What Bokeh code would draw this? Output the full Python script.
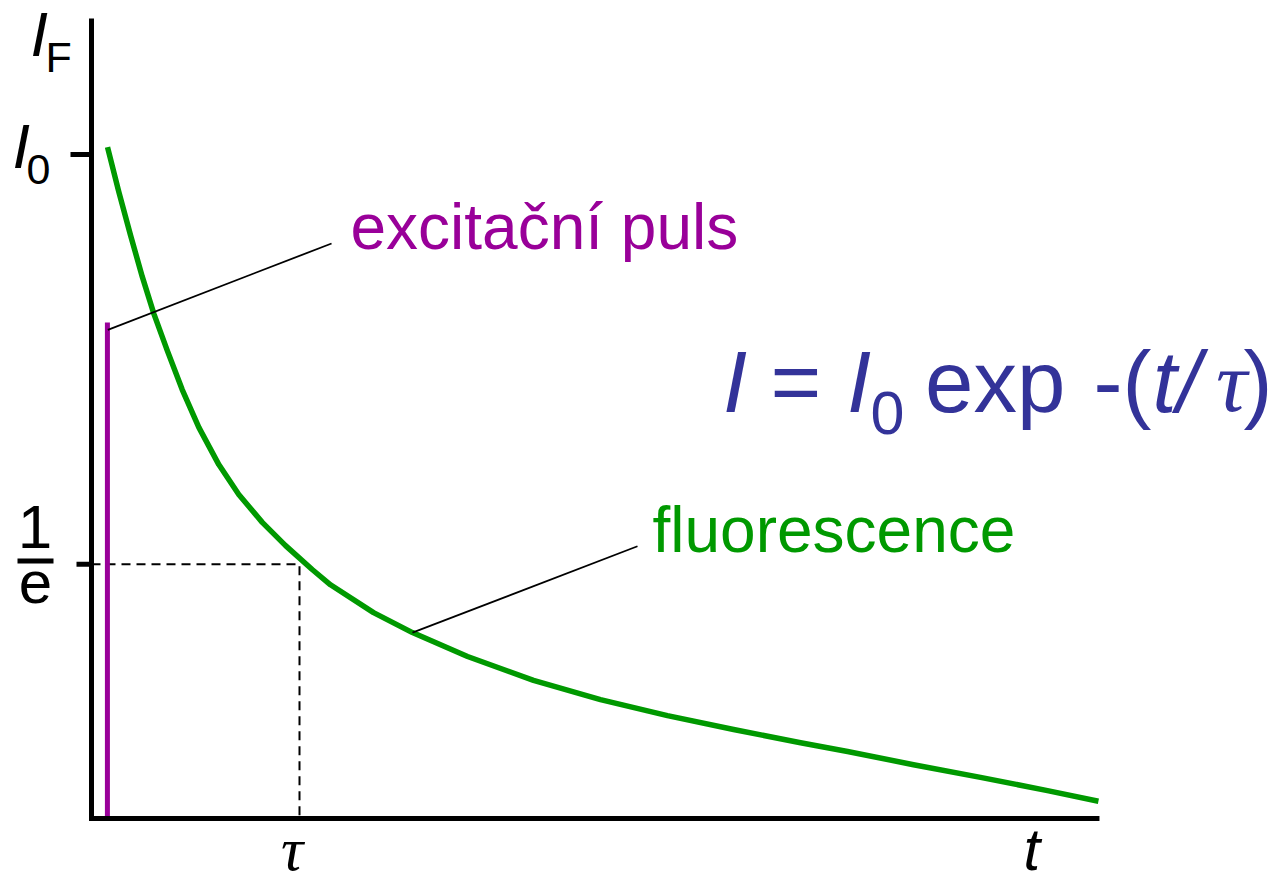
from bokeh.plotting import figure
from bokeh.models import Range1d
from bokeh.embed import file_html
from bokeh.resources import INLINE
from bokeh.core.properties import value

# ---- data (t in units of tau, intensity relative to I0) ----
decay_t = [0.077, 0.131, 0.188, 0.244, 0.300, 0.364, 0.436, 0.516, 0.612, 0.708,
           0.821, 0.933, 1.061, 1.149, 1.356, 1.543, 1.808, 2.125, 2.447, 2.769,
           3.087, 3.409, 3.635, 3.952, 4.274, 4.596, 4.841]
decay_I = [1.011, 0.944, 0.878, 0.816, 0.760, 0.705, 0.646, 0.589, 0.533, 0.488,
           0.446, 0.411, 0.375, 0.352, 0.310, 0.280, 0.244, 0.208, 0.179, 0.155,
           0.134, 0.114, 0.101, 0.081, 0.062, 0.042, 0.026]
pulse_t = [0.0765]
pulse_I = [0.747]
tick_values = [1.0, 0.383]          # I0 and 1/e levels
tau_value = 1.0
t_max = 4.846
I_max = 1.205
lead_exc_t = [0.0785, 1.154]
lead_exc_I = [0.736, 0.866]
lead_flu_t = [1.543, 2.625]
lead_flu_I = [0.280, 0.410]

GREEN = "#009900"
PURPLE = "#990099"
BLUE = "#333399"

# pixel <-> data helpers (layout only)
X0, SX = 91.0, 208.0
Y0, SY = 818.0, 664.0
def tx(px):
    return (px - X0) / SX
def iy(py):
    return (Y0 - py) / SY

W, H = 1270, 875
p = figure(width=W, height=H,
           x_range=Range1d(tx(0), tx(W)), y_range=Range1d(iy(H), iy(0)),
           output_backend="svg", toolbar_location=None,
           x_axis_location=None, y_axis_location=None,
           min_border=0, outline_line_color=None)
p.background_fill_color = "white"
p.border_fill_color = "white"
p.grid.visible = False

# dashed guides at tau / (1/e)
p.line(x=[0, tau_value, tau_value], y=[tick_values[1], tick_values[1], 0],
       line_color="black", line_width=2, line_dash="9 6")

# excitation pulse
p.segment(x0=pulse_t, y0=[0], x1=pulse_t, y1=pulse_I, line_color=PURPLE, line_width=5)

# fluorescence decay
p.line(x=decay_t, y=decay_I, line_color=GREEN, line_width=5.5, line_join="round")

# leader lines
p.line(x=lead_exc_t, y=lead_exc_I, line_color="black", line_width=1.8)
p.line(x=lead_flu_t, y=lead_flu_I, line_color="black", line_width=1.8)

# axes
p.line(x=[0, 0, t_max], y=[I_max, 0, 0], line_color="black", line_width=5,
       line_join="miter")
p.segment(x0=[tx(70), tx(76)], y0=tick_values, x1=[0, 0], y1=tick_values,
          line_color="black", line_width=5)
# fraction bar of 1/e
p.segment(x0=[tx(17)], y0=[iy(560.5)], x1=[tx(53)], y1=[iy(560.5)],
          line_color="black", line_width=5)

K = 0.385  # empirical baseline correction of the svg text renderer


def lab(px, py, s, size, color="black", style="normal", font="Liberation Sans", align="left"):
    p.text(x=[tx(px)], y=[iy(py - K * size)], text=[s], text_font=value(font),
           text_font_size=value(f"{size}px"), text_font_style=style,
           text_color=color, text_baseline="alphabetic", text_align=align)

# axis labels
lab(30, 58, "I", 63, style="italic")
lab(45, 73, "F", 43)
lab(12, 170, "I", 63, style="italic")
lab(26, 186, "0", 43)
lab(34.5, 550, "1", 62, align="center")
lab(35, 605, "e", 60, align="center")
lab(291.5, 872, "\u03c4", 62, style="italic", font="Liberation Serif", align="center")
lab(1023, 872, "t", 60, style="italic")

# annotations
lab(350, 251, "excita\u010dn\u00ed puls", 64, color=PURPLE)
lab(652, 554, "fluorescence", 64, color=GREEN)

# formula I = I0 exp -(t/tau)
lab(722.5, 414, "I", 87, color=BLUE, style="italic")
lab(770, 414, "=", 87, color=BLUE)
lab(846.5, 414, "I", 87, color=BLUE, style="italic")
lab(870, 436, "0", 61, color=BLUE)
lab(924.5, 414, "exp", 87, color=BLUE)
lab(1093, 414, "-(", 87, color=BLUE)
lab(1152, 414, "t/", 87, color=BLUE, style="italic")
lab(1231, 414, "\u03c4", 87, color=BLUE, style="italic", font="Liberation Serif", align="center")
lab(1243, 414, ")", 87, color=BLUE)

open("out.html", "w").write(file_html(p, INLINE))
